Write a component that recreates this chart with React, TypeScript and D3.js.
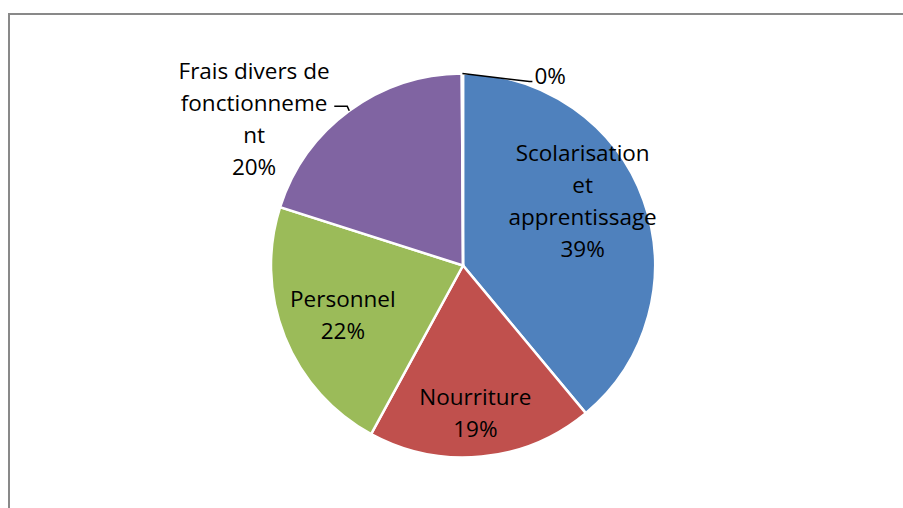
import * as d3 from 'd3';
import { useEffect, useRef } from 'react';

// Slices, clockwise from 12 o'clock
const categories = ['Scolarisation et apprentissage', 'Nourriture', 'Personnel', 'Frais divers de fonctionnement', 'Autres'];
const values = [39, 19, 22, 20, 0.1];
const percentLabels = ['39%', '19%', '22%', '20%', '0%'];
// label text as wrapped in the chart
const labelLines = [
  ['Scolarisation', 'et', 'apprentissage', '39%'],
  ['Nourriture', '19%'],
  ['Personnel', '22%'],
  ['Frais divers de', 'fonctionneme', 'nt', '20%'],
  ['0%'],
];
const colors = ['#4F81BD', '#C0504D', '#9BBB59', '#8064A2', '#4BACC6'];

const W = 903;
const H = 508;

export default function App() {
  const svgRef = useRef<SVGSVGElement>(null);

  useEffect(() => {
    if (!svgRef.current) return;
    const svg = d3.select(svgRef.current);
    svg.selectAll('*').remove();

    // chart frame
    svg.append('rect')
      .attr('x', 9).attr('y', 14)
      .attr('width', W + 20).attr('height', H + 20)
      .attr('fill', '#fff')
      .attr('stroke', '#898989')
      .attr('stroke-width', 2);

    const cx = 463;
    const cy = 265.5;
    const r = 192;

    const pie = d3.pie<number>().sort(null).value(d => d);
    const arcs = pie(values);
    const arc = d3.arc<d3.PieArcDatum<number>>().innerRadius(0).outerRadius(r);

    const g = svg.append('g').attr('transform', `translate(${cx},${cy})`);

    g.selectAll('path.slice')
      .data(arcs)
      .join('path')
      .attr('class', 'slice')
      .attr('d', arc)
      .attr('fill', (_, i) => colors[i])
      .attr('stroke', '#fff')
      .attr('stroke-width', 2.5);

    const polar = (a: number, rad: number): [number, number] => [Math.sin(a) * rad, -Math.cos(a) * rad];
    const mid = (d: d3.PieArcDatum<number>) => (d.startAngle + d.endAngle) / 2;

    // label placement: [angle offset in degrees, radius]
    const place: [number, number][] = [
      [-8.5, 136],
      [0.8, 148],
      [-0.6, 130],
      [-18.7, 255],
      [0, 0],
    ];
    const lineH = 32;

    arcs.forEach((d, i) => {
      const lines = labelLines[i];
      let x: number, y: number;
      let anchor = 'middle';
      if (i === 4) {
        // tiny slice: label pulled out to the right with a leader
        const [ex, ey] = polar(mid(d), r);
        const lx = ex + 67, ly = ey + 8;
        g.append('polyline')
          .attr('points', `${ex},${ey} ${lx},${ly} ${lx + 3},${ly}`)
          .attr('fill', 'none').attr('stroke', '#000').attr('stroke-width', 1.5);
        x = lx + 5; y = ly - 5; anchor = 'start';
      } else {
        const [px, py] = polar(mid(d) + (place[i][0] * Math.PI) / 180, place[i][1]);
        x = px; y = py;
      }

      const t = g.append('text')
        .attr('text-anchor', anchor)
        .style('font-family', '"Open Sans", sans-serif')
        .style('font-size', '22.5px')
        .style('fill', '#000');
      lines.forEach((ln, k) => {
        t.append('tspan')
          .attr('x', x)
          .attr('y', y + (k - (lines.length - 1) / 2) * lineH)
          .attr('dy', '0.35em')
          .text(ln);
      });

      if (i === 3) {
        // leader from label to slice edge
        const [ex, ey] = polar(mid(d), r);
        const ly = y - lineH * 0.5 + 3;
        g.append('polyline')
          .attr('points', `${ex - 15},${ly} ${ex - 2},${ly} ${ex},${ey}`)
          .attr('fill', 'none').attr('stroke', '#000').attr('stroke-width', 1.5);
      }
    });
  }, []);

  return (
    <svg ref={svgRef} width={W} height={H} style={{ position: 'absolute', left: 0, top: 0 }}>
      <title>{categories.join(', ') + ' — ' + percentLabels.join(', ')}</title>
    </svg>
  );
}
